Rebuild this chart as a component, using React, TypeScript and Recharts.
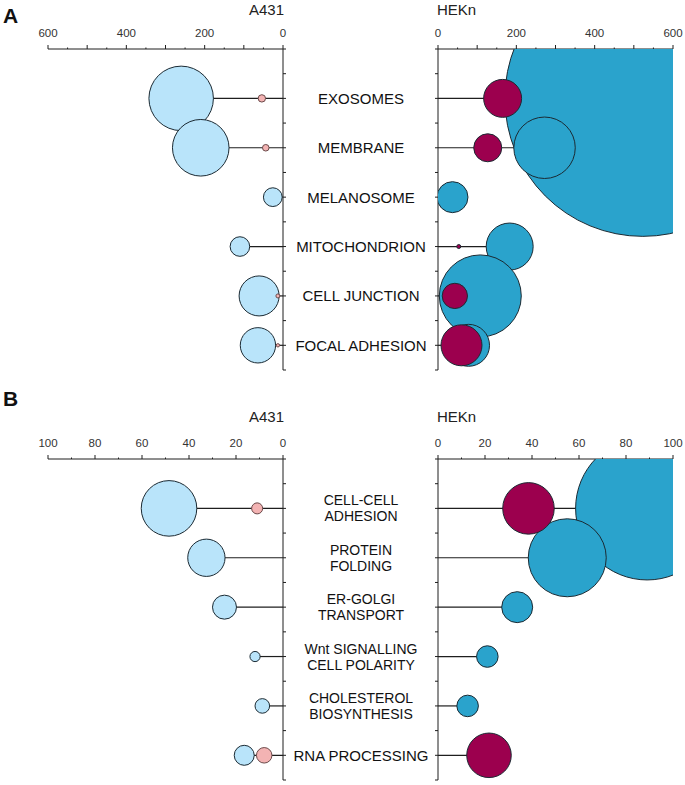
import React from "react";
import { ReferenceLine, Scatter, ScatterChart, XAxis, YAxis, ZAxis } from "recharts";

const FONT = '"Liberation Sans", Arial, Helvetica, sans-serif';
const INK = "#1e1e1e";
const EDGE = "#1b2a33";

const LIGHT_BLUE = "#b9e4fa";
const PINK = "#f3b3b3";
const TEAL = "#2aa3cc";
const CRIMSON = "#9c004e";

// panel A: cellular component terms
const termsA = ["EXOSOMES", "MEMBRANE", "MELANOSOME", "MITOCHONDRION", "CELL JUNCTION", "FOCAL ADHESION"];
const a431BlueA = [260, 210, 26, 110, 61, 64];
const a431BlueSizeA = [26, 20, 2.2, 2.4, 10, 7.8];
const a431PinkA = [54, 44, null, null, 13, 13];
const a431PinkSizeA = [0.34, 0.27, null, null, 0.1, 0.07];
const heknTealA = [523, 272, 37, 183, 108, 78];
const heknTealSizeA = [476, 23.6, 6, 13.8, 42, 11];
const heknRedA = [165, 127, null, 53, 43, 60];
const heknRedSizeA = [9, 4.9, null, 0.1, 4, 10.5];
const xTicksA = [0, 50, 100, 150, 200, 250, 300, 350, 400, 450, 500, 550, 600];

// panel B: biological process terms
const termsB = [
  "CELL-CELL\nADHESION",
  "PROTEIN\nFOLDING",
  "ER-GOLGI\nTRANSPORT",
  "Wnt SIGNALLING\nCELL POLARITY",
  "CHOLESTEROL\nBIOSYNTHESIS",
  "RNA PROCESSING",
];
const a431BlueB = [48.5, 32.6, 24.9, 11.9, 8.8, 16.5];
const a431BlueSizeB = [19.3, 8.7, 3.6, 0.65, 1.33, 2.5];
const a431PinkB = [11, null, null, null, null, 8];
const a431PinkSizeB = [0.76, null, null, null, null, 1.5];
const heknTealB = [89, 55, 33.7, 21, 12.6, null];
const heknTealSizeB = [128, 38, 6, 2.9, 2.9, null];
const heknRedB = [38.5, null, null, null, null, 21.7];
const heknRedSizeB = [16.6, null, null, null, null, 12.4];
const xTicksB = [0, 10, 20, 30, 40, 50, 60, 70, 80, 90, 100];

const yTicks = [0, 0.5, 1, 1.5, 2, 2.5, 3, 3.5, 4, 4.5, 5, 5.5, 6, 6.5];

type V = number | null;
type Series = { xs: V[]; zs: V[]; fill: string; stroke: string };

const toPoints = (xs: V[], zs: V[]) =>
  xs.flatMap((x, i) => (x == null ? [] : [{ x, y: i + 1, z: zs[i] as number }]));

const reach = (terms: string[], series: Series[]) =>
  terms.map((_, i) => Math.max(...series.map((s) => s.xs[i] ?? 0)));

const XTick = ({ x, y, payload, major, every }: any) => {
  const v = payload.value;
  return (
    <g>
      <line x1={x} x2={x} y1={y} y2={y - (v % major === 0 ? 4 : 1.5)} stroke={INK} />
      {v % every === 0 && (
        <text x={x} y={y - 12.5} textAnchor="middle" fontSize={11.5} fill="#333" fontFamily={FONT}>
          {v}
        </text>
      )}
    </g>
  );
};

const YTick = ({ x, y, payload, dir, terms }: any) => {
  const v = payload.value;
  const term = terms && Number.isInteger(v) && v >= 1 ? terms[v - 1] : null;
  const lines: string[] = term ? term.split("\n") : [];
  const n = lines.length;
  // two-line labels sit a touch tighter and smaller
  const size = n > 1 ? 14 : 15;
  const lead = 16;
  return (
    <g>
      <line x1={x} x2={x + dir * 3} y1={y} y2={y} stroke={INK} />
      {lines.map((ln, i) => (
        <text
          key={i}
          x={x + 78}
          y={y + size * 0.36 + (i - (n - 1) / 2) * lead}
          textAnchor="middle"
          fontSize={size}
          fill="#111"
          fontFamily={FONT}
        >
          {ln}
        </text>
      ))}
    </g>
  );
};

function Side({
  side, top, height, axisH, xMax, xTicks, major, every, title, titleGap, terms, series,
}: {
  side: "left" | "right";
  top: number;
  height: number;
  axisH: number;
  xMax: number;
  xTicks: number[];
  major: number;
  every: number;
  title: string;
  titleGap: number;
  terms: string[];
  series: Series[];
}) {
  const isLeft = side === "left";
  const width = isLeft ? 440 : 287;
  const ends = reach(terms, series);
  return (
    <div style={{ position: "absolute", left: isLeft ? 0 : 398, top }}>
      <ScatterChart
        width={width}
        height={height}
        margin={isLeft ? { top: 0, right: 0, bottom: 5, left: 48 } : { top: 0, right: 12, bottom: 5, left: 0 }}
      >
        <XAxis
          type="number"
          dataKey="x"
          orientation="top"
          height={axisH}
          domain={[0, xMax]}
          ticks={xTicks}
          interval={0}
          reversed={isLeft}
          allowDataOverflow={!isLeft}
          axisLine={{ stroke: INK }}
          tickLine={false}
          tickSize={0}
          tickMargin={0}
          tick={(p: any) => <XTick {...p} major={major} every={every} />}
          label={(p: any) => {
            const vb = p.viewBox;
            return (
              <text
                x={isLeft ? vb.x + vb.width + 1 : vb.x - 1}
                y={vb.y + vb.height - titleGap}
                textAnchor={isLeft ? "end" : "start"}
                fontSize={15}
                fill="#222"
                fontFamily={FONT}
              >
                {title}
              </text>
            );
          }}
        />
        <YAxis
          type="number"
          dataKey="y"
          orientation={isLeft ? "right" : "left"}
          width={isLeft ? 157 : 40}
          domain={[0, 6.5]}
          ticks={yTicks}
          interval={0}
          reversed
          allowDataOverflow={!isLeft}
          axisLine={{ stroke: INK }}
          tickLine={false}
          tickSize={0}
          tickMargin={0}
          tick={(p: any) => <YTick {...p} dir={isLeft ? 1 : -1} terms={isLeft ? terms : null} />}
        />
        <ZAxis type="number" dataKey="z" domain={[0, 500]} range={[0, 500 * 40 * Math.PI]} />
        {ends.map((e, i) => (
          <ReferenceLine
            key={terms[i]}
            segment={[
              { x: 0, y: i + 1 },
              { x: e, y: i + 1 },
            ]}
            stroke={INK}
            strokeWidth={1.2}
          />
        ))}
        {series.map((s, k) => (
          <Scatter
            key={k}
            data={toPoints(s.xs, s.zs)}
            fill={s.fill}
            stroke={s.stroke}
            strokeWidth={1}
            isAnimationActive={false}
          />
        ))}
      </ScatterChart>
    </div>
  );
}

const letterStyle: React.CSSProperties = {
  position: "absolute",
  left: 3,
  fontFamily: FONT,
  fontWeight: "bold",
  fontSize: 21,
  lineHeight: "24px",
  color: "#111",
};

export default function App() {
  const leftA: Series[] = [
    { xs: a431BlueA, zs: a431BlueSizeA, fill: LIGHT_BLUE, stroke: EDGE },
    { xs: a431PinkA, zs: a431PinkSizeA, fill: PINK, stroke: "#6b4a4a" },
  ];
  const rightA: Series[] = [
    { xs: heknTealA, zs: heknTealSizeA, fill: TEAL, stroke: EDGE },
    { xs: heknRedA, zs: heknRedSizeA, fill: CRIMSON, stroke: EDGE },
  ];
  const leftB: Series[] = [
    { xs: a431BlueB, zs: a431BlueSizeB, fill: LIGHT_BLUE, stroke: EDGE },
    { xs: a431PinkB, zs: a431PinkSizeB, fill: PINK, stroke: "#6b4a4a" },
  ];
  const rightB: Series[] = [
    { xs: heknTealB, zs: heknTealSizeB, fill: TEAL, stroke: EDGE },
    { xs: heknRedB, zs: heknRedSizeB, fill: CRIMSON, stroke: EDGE },
  ];
  const a = { top: 0, height: 375, axisH: 49, xMax: 600, xTicks: xTicksA, major: 100, every: 200, titleGap: 34, terms: termsA };
  const b = { top: 380, height: 405, axisH: 79, xMax: 100, xTicks: xTicksB, major: 20, every: 20, titleGap: 37, terms: termsB };
  return (
    <div style={{ position: "absolute", left: 0, top: 0, width: 685, height: 785, background: "#fff" }}>
      <div style={{ ...letterStyle, top: 4 }}>A</div>
      <div style={{ ...letterStyle, top: 387 }}>B</div>
      <Side side="left" title="A431" series={leftA} {...a} />
      <Side side="right" title="HEKn" series={rightA} {...a} />
      <Side side="left" title="A431" series={leftB} {...b} />
      <Side side="right" title="HEKn" series={rightB} {...b} />
    </div>
  );
}
